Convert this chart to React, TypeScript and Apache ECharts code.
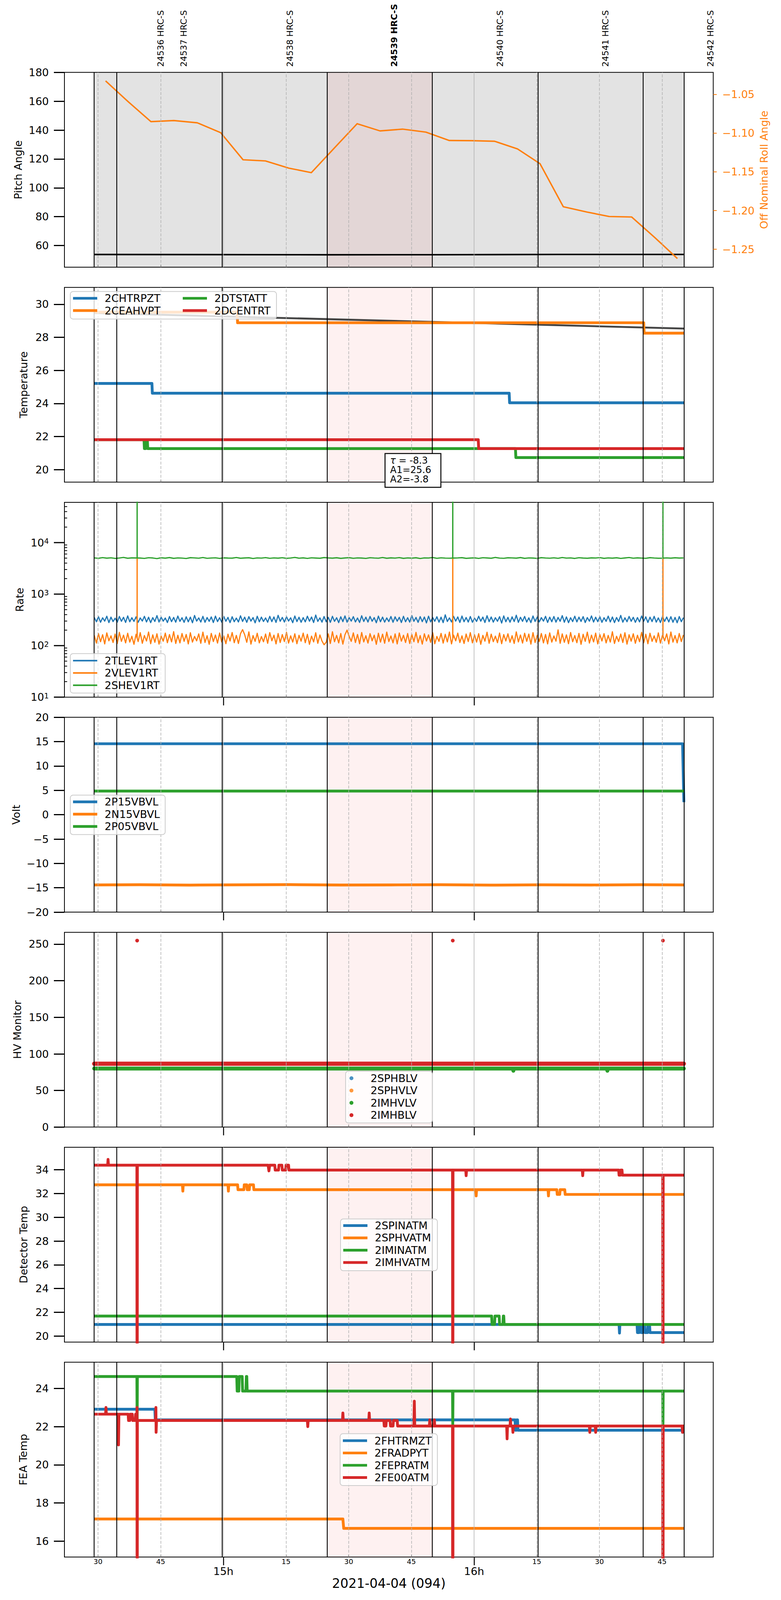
import { useEffect, useRef } from "react";
import * as echarts from "echarts";

const FONT = "DejaVu Sans";
const BLUE = "#1f77b4";
const ORANGE = "#ff7f0e";
const GREEN = "#2ca02c";
const RED = "#d62728";

// time axis: minutes after 14:00 on 2021-04-04
const X_MIN = 21.96;
const X_MAX = 177.24;
const MAJOR_T = [60, 120];
const MINOR_T = [30, 45, 75, 90, 105, 135, 150, 165];
const X_TITLE = "2021-04-04 (094)";

// obsid boundaries and labels
const OBS_BOUNDS = [29.07, 34.49, 59.72, 84.86, 110.0, 135.28, 160.44, 170.21];
const OBS_SHADE = [29.07, 170.21];
const OBS_FOCUS = [84.86, 110.0];
const OBS_NAMES = ["24536 HRC-S", "24537 HRC-S", "24538 HRC-S", "24539 HRC-S", "24540 HRC-S", "24541 HRC-S", "24542 HRC-S"];
const OBS_NAME_T = [45.0, 50.5, 75.9, 100.9, 126.2, 151.4, 176.6];
const OBS_BOLD = "24539 HRC-S";

// y ticks
const PITCH_TICKS = [60, 80, 100, 120, 140, 160, 180];
const ROLL_TICKS = [-1.25, -1.2, -1.15, -1.1, -1.05];
const TEMP_TICKS = [20, 22, 24, 26, 28, 30];
const VOLT_TICKS = [-20, -15, -10, -5, 0, 5, 10, 15, 20];
const HV_TICKS = [0, 50, 100, 150, 200, 250];
const DET_TICKS = [20, 22, 24, 26, 28, 30, 32, 34];
const FEA_TICKS = [16, 18, 20, 22, 24];
const LOG_MAJOR = [10, 100, 1000, 10000];
const LOG_MINOR = [20, 30, 40, 50, 60, 70, 80, 90, 200, 300, 400, 500, 600, 700, 800, 900,
  2000, 3000, 4000, 5000, 6000, 7000, 8000, 9000, 20000, 30000, 40000, 50000];

// panel 1: pitch / roll
const PITCH_T = [29.07, 55.0, 85.0, 110.0, 140.0, 170.21];
const PITCH = [53.75, 53.7, 53.55, 53.6, 53.8, 53.8];
const ROLL_T = [31.81, 37.3, 42.66, 48.15, 53.75, 59.35, 64.71, 70.07, 75.68, 81.05, 86.53, 92.01, 97.49,
  102.86, 108.47, 114.07, 119.43, 124.92, 130.4, 135.77, 141.36, 146.97, 152.34, 157.7, 163.3, 168.66];
const ROLL = [-1.0325, -1.0598, -1.0851, -1.0837, -1.0866, -1.0994, -1.1344, -1.1359, -1.1452, -1.151,
  -1.1194, -1.0878, -1.0971, -1.0948, -1.0987, -1.1095, -1.1097, -1.1105, -1.1204, -1.1394, -1.1951,
  -1.2019, -1.2077, -1.2083, -1.2351, -1.262];

// panel 2: temperatures
const MODEL_T = [29.07, 170.21];
const MODEL = [29.47, 28.53];
const CHTRPZT_T = [29.07, 42.9, 43.0, 128.4, 128.5, 170.21];
const CHTRPZT = [25.21, 25.21, 24.62, 24.62, 24.04, 24.04];
const CEAHVPT_T = [29.07, 63.3, 63.4, 160.6, 160.7, 170.21];
const CEAHVPT = [29.52, 29.52, 28.88, 28.88, 28.25, 28.25];
const DTSTATT_T = [29.07, 41.0, 41.1, 41.4, 41.5, 41.8, 41.9, 129.9, 130.0, 170.21];
const DTSTATT = [21.81, 21.81, 21.27, 21.27, 21.81, 21.81, 21.27, 21.27, 20.73, 20.73];
const DCENTRT_T = [29.07, 121.0, 121.1, 170.21];
const DCENTRT = [21.81, 21.81, 21.27, 21.27];
const FIT_TEXT = ["τ = -8.3", "A1=25.6", "A2=-3.8"];

// panel 3: rates; 2TLEV1RT and 2VLEV1RT every 0.5 min, 2SHEV1RT every 1 min, from 14:29.1
const RATE_T0 = 29.1;
const FAST_DT = 0.5;
const SLOW_DT = 1.0;
const TLEV1RT = [
  352, 291, 366, 284, 347, 299, 372, 280, 358, 293, 341, 286, 369, 297, 355, 282, 378, 290, 349, 295,
  362, 283, 345, 300, 371, 288, 356, 279, 350, 294, 383, 287, 359, 298, 344, 281, 367, 292, 353, 285,
  375, 296, 348, 283, 363, 290, 357, 278, 385, 299, 346, 287, 370, 284, 352, 296, 361, 281, 374, 293,
  349, 286, 368, 297, 354, 280, 364, 291, 343, 288, 379, 295, 357, 283, 366, 299, 351, 277, 372, 290,
  358, 294, 345, 285, 370, 292, 360, 282, 388, 297, 353, 287, 365, 300, 347, 279, 376, 293, 356, 284,
  350, 289, 373, 298, 359, 281, 392, 295, 346, 286, 367, 291, 354, 283, 371, 296, 348, 280, 363, 292,
  377, 285, 352, 299, 366, 288, 344, 282, 380, 294, 357, 287, 369, 297, 350, 278, 374, 291, 358, 286,
  345, 293, 368, 284, 362, 298, 355, 281, 371, 290, 348, 286, 384, 296, 353, 283, 366, 292, 359, 276,
  373, 289, 351, 297, 364, 285, 357, 280, 396, 294, 346, 288, 370, 299, 361, 282, 375, 291, 352, 287,
  367, 284, 343, 295, 372, 298, 358, 281, 381, 292, 360, 286, 349, 297, 365, 274, 378, 290, 354, 285,
  362, 293, 389, 283, 355, 296, 369, 287, 347, 280, 376, 294, 363, 288, 350, 299, 371, 282, 357, 291,
  368, 286, 353, 297, 382, 284, 361, 279, 348, 293, 373, 289, 358, 295, 366, 281, 351, 298, 377, 287,
  356, 292, 364, 283, 349, 296, 374, 288, 360, 280, 352, 294, 386, 285, 347, 291, 369, 297, 355, 283,
  351, 289, 376, 298, 362, 282, 357, 293, 370, 286, 346, 281, 372, 295, 359, 288, 365, 284, 353, 278,
  367, 292, 349,
];
const VLEV1RT = [
  158, 112, 171, 119, 163, 108, 177, 124, 155, 115, 168, 110, 181, 121, 160, 113, 174, 117, 152, 106,
  166, 120, 179, 111, 157, 123, 184, 109, 162, 116, 170, 107, 153, 122, 175, 114, 164, 118, 187, 110,
  159, 113, 172, 121, 165, 108, 178, 117, 151, 124, 169, 111, 183, 115, 156, 106, 173, 120, 161, 112,
  176, 118, 154, 109, 167, 123, 180, 114, 158, 110, 171, 205, 163, 116, 185, 107, 157, 121, 174, 113,
  150, 119, 168, 111, 179, 124, 160, 108, 172, 115, 164, 120, 182, 112, 155, 117, 170, 109, 159, 122,
  175, 114, 166, 106, 153, 118, 178, 111, 161, 123, 104, 116, 169, 110, 186, 119, 158, 113, 172, 107,
  163, 200, 152, 121, 177, 115, 165, 109, 180, 118, 156, 112, 171, 124, 160, 106, 174, 117, 167, 111,
  183, 120, 154, 113, 169, 108, 176, 122, 159, 115, 172, 110, 165, 119, 181, 114, 157, 107, 170, 123,
  162, 116, 178, 109, 151, 121, 173, 112, 166, 118, 184, 108, 160, 124, 175, 115, 155, 110, 168, 120,
  179, 113, 163, 117, 171, 106, 158, 122, 182, 111, 167, 119, 153, 114, 176, 109, 164, 123, 170, 116,
  156, 110, 185, 118, 161, 112, 174, 121, 168, 107, 179, 115, 159, 120, 172, 113, 165, 108, 177, 117,
  154, 122, 202, 111, 169, 116, 162, 109, 180, 119, 157, 114, 173, 106, 166, 121, 183, 112, 160, 118,
  175, 108, 164, 123, 171, 113, 158, 117, 186, 110, 152, 120, 168, 115, 178, 107, 163, 122, 170, 111,
  159, 119, 181, 114, 166, 109, 174, 121, 155, 116, 177, 112, 162, 124, 169, 108, 184, 117, 157, 113,
  172, 120, 161,
];
const SHEV1RT = [
  5040, 4960, 5110, 4990, 5070, 4930, 5020, 5150, 4970, 5060,
  5030, 5010, 4940, 5090, 5030, 4900, 5080, 4990, 5120, 4950,
  5050, 5000, 4920, 5100, 5040, 4980, 5130, 4960, 5020, 5070,
  4940, 5060, 5010, 4990, 5140, 4970, 5030, 5080, 4910, 5050,
  5000, 5110, 4960, 5040, 4990, 5090, 4950, 5020, 5160, 4980,
  5060, 4930, 5070, 5010, 4970, 5120, 5040, 4990, 5080, 4950,
  5030, 5100, 4960, 5050, 5010, 4940, 5090, 5020, 4980, 5140,
  4970, 5060, 5000, 5110, 4950, 5040, 4990, 5080, 4920, 5050,
  5020, 5130, 4960, 5070, 5000, 4980, 5010, 5040, 5100, 4950,
  5010, 5060, 4930, 5090, 5030, 4970, 5150, 5000, 4960, 5080,
  5040, 4990, 5120, 4950, 5050, 5010, 4940, 5100, 5020, 4980,
  5070, 4960, 5130, 5000, 5040, 4930, 5090, 5010, 4970, 5060,
  5020, 5110, 4950, 5050, 4990, 5080, 4940, 5030, 5140, 4980,
  5060, 5000, 4960, 5100, 5020, 4970, 4990, 5050, 4990, 5080,
  5010, 5040,
];
// rate spikes: times, and the level each trace jumps from / to
const SPIKE_T = [39.36, 114.9, 165.2];
const VLEV_SPIKE = [140, 5000];
const SHEV_SPIKE = [5000, 200000];

// panel 4: voltages
const P15_T = [29.07, 169.9, 170.21];
const P15 = [14.57, 14.57, 2.58];
const N15_T = [29.07, 40, 52, 64, 76, 88, 100, 112, 124, 136, 148, 160, 170.21];
const N15 = [-14.42, -14.38, -14.45, -14.4, -14.36, -14.44, -14.41, -14.37, -14.46, -14.4, -14.43, -14.38, -14.42];
const P05_T = [29.07, 170.21];
const P05 = [4.86, 4.86];

// panel 5: HV monitor
const IMHV_T = [29.07, 129.3, 129.4, 129.5, 151.8, 151.9, 152.0, 170.21];
const IMHV = [80.0, 80.0, 77.0, 80.0, 80.0, 77.0, 80.0, 80.0];
const IMHB_T = [29.07, 170.21];
const IMHB = [86.6, 86.6];
const IMHB_OUT_T = [39.36, 114.9, 165.2];
const IMHB_OUT = [254.8, 254.8, 254.8];

// panel 6: detector temperatures
const SPINATM_T = [29.07, 154.7, 154.8, 154.9, 159.0, 159.1, 159.5, 159.6, 159.9, 160.0, 160.4, 160.5,
  160.8, 160.9, 161.5, 161.6, 162.0, 162.1, 163.2, 163.3, 170.21];
const SPINATM = [20.98, 20.98, 20.26, 20.98, 20.98, 20.3, 20.3, 20.98, 20.98, 20.3, 20.3, 20.98,
  20.98, 20.3, 20.3, 20.98, 20.98, 20.3, 20.3, 20.3, 20.3];
const SPHVATM_T = [29.07, 50.2, 50.3, 50.4, 61.1, 61.2, 61.3, 63.4, 63.5, 64.9, 65.0, 65.6, 65.7, 66.2,
  66.3, 67.2, 67.3, 120.4, 120.5, 120.6, 137.7, 137.8, 137.9, 139.8, 139.9, 140.5, 140.6, 141.7, 141.8, 170.21];
const SPHVATM = [32.73, 32.73, 32.2, 32.73, 32.73, 32.2, 32.73, 32.73, 32.32, 32.32, 32.73, 32.73, 32.32, 32.32,
  32.73, 32.73, 32.32, 32.32, 31.8, 32.32, 32.32, 31.8, 32.32, 32.32, 31.92, 31.92, 32.32, 32.32, 31.92, 31.92];
const IMINATM_T = [29.07, 124.2, 124.3, 124.9, 125.0, 126.0, 126.1, 126.9, 127.0, 127.1, 127.2, 170.21];
const IMINATM = [21.69, 21.69, 20.98, 20.98, 21.69, 21.69, 20.98, 20.98, 21.69, 21.69, 20.98, 20.98];
const IMHVATM_T = [29.07, 32.3, 32.4, 32.5, 39.3, 39.36, 39.42, 70.7, 70.9, 71.1, 72.3, 72.4, 73.2, 73.3,
  74.0, 74.1, 74.9, 75.0, 75.6, 75.7, 114.84, 114.9, 114.96, 118.0, 118.1, 118.2, 145.9, 146.0, 146.1,
  154.6, 154.7, 155.0, 155.1, 155.4, 155.5, 165.14, 165.2, 165.26, 170.21];
const IMHVATM = [34.38, 34.38, 34.87, 34.38, 34.38, 0, 34.38, 34.38, 33.9, 34.38, 34.38, 33.97, 33.97, 34.38,
  34.38, 33.97, 33.97, 34.38, 34.38, 33.97, 33.97, 0, 33.97, 33.97, 33.5, 33.97, 33.97, 33.5, 33.97,
  33.97, 33.54, 33.54, 33.97, 33.97, 33.54, 33.54, 0, 33.54, 33.54];

// panel 7: FEA temperatures
const FHTRMZT_T = [29.07, 43.6, 43.7, 129.8, 129.9, 130.1, 130.2, 130.4, 130.5, 169.8, 169.9, 170.0, 170.21];
const FHTRMZT = [22.91, 22.91, 22.35, 22.35, 21.81, 21.81, 22.35, 22.35, 21.81, 21.81, 21.7, 21.81, 21.81];
const FRADPYT_T = [29.07, 88.6, 88.8, 170.21];
const FRADPYT = [17.16, 17.16, 16.67, 16.67];
const FEPRATM_T = [29.07, 39.3, 39.36, 39.42, 63.2, 63.3, 63.7, 63.8, 64.5, 64.6, 65.4, 65.5, 65.6, 65.7,
  114.84, 114.9, 114.96, 165.14, 165.2, 165.26, 170.21];
const FEPRATM = [24.62, 24.62, 22.0, 24.62, 24.62, 23.86, 23.86, 24.62, 24.62, 23.86, 23.86, 24.62, 24.62, 23.86,
  23.86, 22.0, 23.86, 23.86, 22.0, 23.86, 23.86];
const FE00ATM_T = [29.07, 31.8, 31.9, 32.0, 34.8, 34.9, 35.0, 37.2, 37.3, 37.6, 37.7, 38.2, 38.3, 38.9, 39.0,
  39.3, 39.33, 39.36, 39.42, 43.8, 43.85, 43.9, 44.0, 80.1, 80.2, 80.3, 88.5, 88.6, 88.7, 94.8, 94.9, 95.0,
  98.4, 98.5, 98.9, 99.0, 99.9, 100.0, 100.6, 100.7, 101.6, 101.7, 105.6, 105.7, 105.8, 109.3, 109.4, 109.5,
  110.4, 110.5, 110.6, 114.84, 114.9, 114.96, 127.8, 127.9, 128.0, 128.6, 128.7, 128.8, 129.2, 129.3, 129.4,
  147.6, 147.7, 147.8, 149.0, 149.1, 149.2, 165.14, 165.2, 165.26, 169.8, 169.9, 170.0, 170.21];
const FE00ATM = [22.65, 22.65, 23.0, 22.65, 22.65, 21.04, 22.65, 22.65, 22.32, 22.32, 22.65, 22.65, 22.32, 22.32, 22.65,
  22.65, 23.0, 0, 22.32, 22.32, 23.0, 21.7, 22.32, 22.32, 22.0, 22.32, 22.32, 22.71, 22.32, 22.32, 22.71, 22.32,
  22.32, 22.03, 22.03, 22.32, 22.32, 22.03, 22.03, 22.32, 22.32, 22.03, 22.03, 23.33, 22.03, 22.03, 22.35, 22.03,
  22.03, 22.35, 22.03, 22.03, 0, 22.03, 22.03, 21.36, 22.03, 22.03, 22.4, 22.03, 22.03, 21.7, 22.03,
  22.03, 21.7, 22.03, 22.03, 21.7, 22.03, 22.03, 0, 22.03, 22.03, 21.7, 22.03, 22.03];

// layout, measured on the 2000x5400 figure. The browser viewport can be shorter than
// that (4096 px here), so the vertical layout is squeezed to keep the whole figure in view.
const VIEW_H = Math.min(5400, window.innerHeight || 5400);
const KY = Math.min(1, (VIEW_H - 110) / 5291);
const LW = Math.sqrt(KY);
const y = (v: number) => v * KY;
const GRID_LEFT = 165;
const GRID_W = 1661.5;
const GRID_TOP = 246;
const GRID_STEP = 730.5;
const GRID_H = 662;
const TOP_FONT = KY < 0.99 ? 22 : 27;
const BOX_FONT = KY < 0.99 ? 24 : 27;

const Y_LEFT = [
  { name: "Pitch Angle", min: 44.95, max: 180, ticks: PITCH_TICKS, gap: 105 },
  { name: "Temperature", min: 19.24, max: 31.02, ticks: TEMP_TICKS, gap: 91 },
  { name: "Rate", min: 10, max: 60500, ticks: null, gap: 101 },
  { name: "Volt", min: -20, max: 20, ticks: VOLT_TICKS, gap: 110 },
  { name: "HV Monitor", min: 0, max: 266.2, ticks: HV_TICKS, gap: 107 },
  { name: "Detector Temp", min: 19.5, max: 35.89, ticks: DET_TICKS, gap: 91 },
  { name: "FEA Temp", min: 15.17, max: 25.37, ticks: FEA_TICKS, gap: 92 },
];

const signed = (v: number, d = 0) => (v < 0 ? "\u2212" : "") + Math.abs(v).toFixed(d);
const zip = (t: number[], v: number[]) => t.map((x, i) => [x, v[i]]);
const sampled = (v: number[], dt: number) => v.map((val, i) => [RATE_T0 + i * dt, val]);
const spikes = (lvl: number[]) => SPIKE_T.flatMap((t) => [[t, lvl[0]], [t, lvl[1]], [t, "-"]]);

function line(name: string, grid: number, data: any[], color: string, width: number, yIdx = grid) {
  return {
    type: "line", name, xAxisIndex: grid, yAxisIndex: yIdx, data, z: 4,
    showSymbol: false, symbol: "none", clip: true, silent: true, connectNulls: false,
    lineStyle: { color, width: width * LW, cap: "butt", join: "round" },
    itemStyle: { color },
  };
}

function buildOption() {
  const grid: any[] = [];
  const xAxis: any[] = [];
  const yAxis: any[] = [];
  const series: any[] = [];
  const text = { fontFamily: FONT, color: "#000" };

  for (let i = 0; i < 7; i++) {
    grid.push({
      left: GRID_LEFT, top: y(GRID_TOP + i * GRID_STEP), width: GRID_W, height: y(GRID_H),
      show: true, borderColor: "#000", borderWidth: 2, backgroundColor: "transparent", z: 3,
      outerBoundsMode: "none",
    });
  }
  // major (hour) axes
  for (let i = 0; i < 7; i++) {
    xAxis.push({
      type: "value", gridIndex: i, min: X_MIN, max: X_MAX, position: "bottom", z: 3,
      axisLine: { show: false, onZero: false }, splitLine: { show: false },
      axisTick: { show: i >= 2, customValues: MAJOR_T, inside: false, length: y(28), lineStyle: { color: "#000", width: 2.5 } },
      axisLabel: { show: i === 6, customValues: MAJOR_T, margin: y(49) - 13.5, fontSize: 27, ...text, formatter: (v: number) => `${Math.round(v / 60) + 14}h` },
      name: i === 6 ? X_TITLE : "", nameLocation: "middle", nameGap: y(87) - 16.5,
      nameTextStyle: { fontSize: 33, ...text },
    });
  }
  // minor (15 min) axes
  for (let i = 0; i < 7; i++) {
    xAxis.push({
      type: "value", gridIndex: i, min: X_MIN, max: X_MAX, position: "bottom", z: 3,
      axisLine: { show: false, onZero: false }, splitLine: { show: false },
      axisTick: { show: true, customValues: MINOR_T, inside: true, length: y(7), lineStyle: { color: "#000", width: 2 } },
      axisLabel: { show: i === 6, customValues: MINOR_T, margin: Math.max(1, y(15) - 9), fontSize: 18, ...text, formatter: (v: number) => String(Math.round(v) % 60) },
    });
  }
  Y_LEFT.forEach((p, i) => {
    const isLog = i === 2;
    yAxis.push({
      type: isLog ? "log" : "value", logBase: 10, gridIndex: i, min: p.min, max: p.max, position: "left", z: 3,
      axisLine: { show: false, onZero: false }, splitLine: { show: false },
      axisTick: { show: !isLog, customValues: p.ticks || undefined, length: 27, lineStyle: { color: "#000", width: 3 } },
      axisLabel: isLog
        ? {
            margin: 40, fontSize: 27, ...text, lineHeight: 27,
            formatter: (v: number) => {
              const e = Math.log10(v);
              if (Math.abs(e - Math.round(e)) > 1e-6) return "";
              return `10{s|${Math.round(e)}}`;
            },
            rich: { s: { fontSize: 19, lineHeight: 19, verticalAlign: "top", fontFamily: FONT, color: "#000" } },
          }
        : { customValues: p.ticks, margin: 40, fontSize: 27, ...text, formatter: (v: number) => signed(v) },
      name: p.name, nameLocation: "middle", nameRotate: 90, nameGap: p.gap,
      nameTextStyle: { fontSize: 27, ...text },
    });
  });
  // roll angle, right side of panel 1
  yAxis.push({
    type: "value", gridIndex: 0, min: -1.2732, max: -1.0215, position: "right", z: 3,
    axisLine: { show: false, onZero: false }, splitLine: { show: false },
    axisTick: { show: true, customValues: ROLL_TICKS, length: 9, lineStyle: { color: ORANGE, width: 2 } },
    axisLabel: { customValues: ROLL_TICKS, margin: 23, fontSize: 27, fontFamily: FONT, color: ORANGE, formatter: (v: number) => signed(v, 2) },
    name: "Off Nominal Roll Angle", nameLocation: "middle", nameRotate: 90, nameGap: 115,
    nameTextStyle: { fontSize: 27, fontFamily: FONT, color: ORANGE },
  });

  // shading, grid lines and obsid boundaries
  for (let i = 0; i < 7; i++) {
    const areas: any[] = [];
    if (i === 0) areas.push([{ xAxis: OBS_SHADE[0], itemStyle: { color: "#e3e3e3" } }, { xAxis: OBS_SHADE[1] }]);
    areas.push([{ xAxis: OBS_FOCUS[0], itemStyle: { color: "rgba(235,0,0,0.055)" } }, { xAxis: OBS_FOCUS[1] }]);
    series.push({
      type: "line", name: `_area${i}`, xAxisIndex: i, yAxisIndex: i, data: [], z: 1, silent: true,
      markArea: { silent: true, data: areas },
    });
    const lines: any[] = [
      ...MINOR_T.map((v) => ({ xAxis: v, lineStyle: { color: "#b0b0b0", width: 1.5, type: [y(10), y(5)] } })),
      ...MAJOR_T.map((v) => ({ xAxis: v, lineStyle: { color: "#b0b0b0", width: 1.5, type: "solid" } })),
      ...OBS_BOUNDS.map((v) => ({ xAxis: v, lineStyle: { color: "#000", width: 2.2, type: "solid" } })),
    ];
    series.push({
      type: "line", name: `_lines${i}`, xAxisIndex: i, yAxisIndex: i, data: [], z: 2, silent: true,
      markLine: { silent: true, symbol: ["none", "none"], label: { show: false }, data: lines },
    });
  }

  const W = 8.3;
  // panel 1
  series.push(line("Pitch", 0, zip(PITCH_T, PITCH), "#000", 4.5));
  series.push(line("Roll", 0, zip(ROLL_T, ROLL), ORANGE, 4.2, 7));
  // panel 2
  series.push(line("_model", 1, zip(MODEL_T, MODEL), "#444444", 5.5));
  series.push(line("2CHTRPZT", 1, zip(CHTRPZT_T, CHTRPZT), BLUE, W));
  series.push(line("2CEAHVPT", 1, zip(CEAHVPT_T, CEAHVPT), ORANGE, W));
  series.push(line("2DTSTATT", 1, zip(DTSTATT_T, DTSTATT), GREEN, W));
  series.push(line("2DCENTRT", 1, zip(DCENTRT_T, DCENTRT), RED, W));
  // panel 3
  series.push(line("2TLEV1RT", 2, sampled(TLEV1RT, FAST_DT), BLUE, 3.4));
  series.push(line("2VLEV1RT", 2, sampled(VLEV1RT, FAST_DT), ORANGE, 3.4));
  series.push(line("2VLEV1RT", 2, spikes(VLEV_SPIKE), ORANGE, 3.8));
  series.push(line("2SHEV1RT", 2, sampled(SHEV1RT, SLOW_DT), GREEN, 3.6));
  series.push(line("2SHEV1RT", 2, spikes(SHEV_SPIKE), GREEN, 3.8));
  // panel 4
  series.push(line("2P15VBVL", 3, zip(P15_T, P15), BLUE, W));
  series.push(line("2N15VBVL", 3, zip(N15_T, N15), ORANGE, W));
  series.push(line("2P05VBVL", 3, zip(P05_T, P05), GREEN, W));
  // panel 5
  series.push({ type: "scatter", name: "2SPHBLV", xAxisIndex: 4, yAxisIndex: 4, data: [], itemStyle: { color: BLUE }, z: 4 });
  series.push({ type: "scatter", name: "2SPHVLV", xAxisIndex: 4, yAxisIndex: 4, data: [], itemStyle: { color: ORANGE }, z: 4 });
  const hv1: any = line("2IMHVLV", 4, zip(IMHV_T, IMHV), GREEN, 11.5);
  hv1.lineStyle.cap = "round";
  series.push(hv1);
  const hv2: any = line("2IMHBLV", 4, zip(IMHB_T, IMHB), RED, 12.5);
  hv2.lineStyle.cap = "round";
  series.push(hv2);
  series.push({
    type: "scatter", name: "2IMHBLV", xAxisIndex: 4, yAxisIndex: 4, data: zip(IMHB_OUT_T, IMHB_OUT),
    symbolSize: 11 * LW, itemStyle: { color: RED, opacity: 1 }, z: 4, silent: true,
  });
  // panel 6
  series.push(line("2SPINATM", 5, zip(SPINATM_T, SPINATM), BLUE, W));
  series.push(line("2SPHVATM", 5, zip(SPHVATM_T, SPHVATM), ORANGE, W));
  series.push(line("2IMINATM", 5, zip(IMINATM_T, IMINATM), GREEN, W));
  series.push(line("2IMHVATM", 5, zip(IMHVATM_T, IMHVATM), RED, W));
  // panel 7
  series.push(line("2FHTRMZT", 6, zip(FHTRMZT_T, FHTRMZT), BLUE, W));
  series.push(line("2FRADPYT", 6, zip(FRADPYT_T, FRADPYT), ORANGE, W));
  series.push(line("2FEPRATM", 6, zip(FEPRATM_T, FEPRATM), GREEN, W));
  series.push(line("2FE00ATM", 6, zip(FE00ATM_T, FE00ATM), RED, W));

  // legends: left edge of the handles and the centre of the first row, in figure pixels
  const lg = (data: any[], left: number, firstRow: number, extra: any = {}) => ({
    data, left, top: y(firstRow) - 13.5, orient: "vertical", padding: 0, selectedMode: false, z: 7,
    icon: "rect", itemWidth: 62, itemHeight: 8 * LW, itemGap: y(41.8) - 27,
    textStyle: { fontSize: 27, fontFamily: FONT, color: "#000", padding: [0, 0, 0, 14] },
    ...extra,
  });
  const dot = (n: string) => ({ name: n, icon: "circle" });
  const legend = [
    lg(["2CHTRPZT", "2CEAHVPT"], 187, 1013.6),
    lg(["2DTSTATT", "2DCENTRT"], 468, 1013.6),
    lg(["2TLEV1RT", "2VLEV1RT", "2SHEV1RT"], 187, 2245, { itemHeight: 4 }),
    lg(["2P15VBVL", "2N15VBVL", "2P05VBVL"], 187, 2724.8),
    lg([dot("2SPHBLV"), dot("2SPHVLV"), dot("2IMHVLV"), dot("2IMHBLV")], 895, 3664,
      { itemWidth: 56, itemHeight: 10, textStyle: { fontSize: 27, fontFamily: FONT, color: "#000", padding: [0, 0, 0, 16] } }),
    lg(["2SPINATM", "2SPHVATM", "2IMINATM", "2IMHVATM"], 879, 4164.7),
    lg(["2FHTRMZT", "2FRADPYT", "2FEPRATM", "2FE00ATM"], 878, 4895.6),
  ];

  return {
    animation: false,
    backgroundColor: "#fff",
    textStyle: { fontFamily: FONT },
    grid, xAxis, yAxis, series, legend,
  };
}

function buildGraphic(chart: any) {
  const g: any[] = [];
  // obsid labels above the first panel
  OBS_NAMES.forEach((name, i) => {
    const x = chart.convertToPixel({ xAxisIndex: 0 }, OBS_NAME_T[i]);
    g.push({
      type: "text", x, y: y(227), rotation: Math.PI / 2, z: 5,
      style: {
        text: name, fontSize: TOP_FONT, fontFamily: FONT, fontWeight: name === OBS_BOLD ? "bold" : "normal",
        fill: "#000", align: "left", verticalAlign: "middle", textAlign: "left", textVerticalAlign: "middle",
      },
    });
  });
  // legend frames
  const frames = [
    [180, 990.7, 528, 93.3], [180, 2221, 243, 134], [180, 2702, 243, 134],
    [885, 3640, 222, 176], [872, 4142, 248, 176], [871, 4872, 249, 176],
  ];
  frames.forEach(([fx, fy, w, h]) => {
    g.push({
      type: "rect", z: 6, shape: { x: fx, y: y(fy), width: w, height: y(h), r: 7 },
      style: { fill: "rgba(255,255,255,0.8)", stroke: "#cccccc", lineWidth: 2 },
    });
  });
  // fit parameter box in the temperature panel
  const lh = y(32);
  g.push({
    type: "rect", z: 8, shape: { x: 986, y: y(1541), width: 143, height: y(115) },
    style: { fill: "#fff", stroke: "#000", lineWidth: 2.5 },
  });
  g.push({
    type: "text", z: 9, x: 999, y: y(1564.8) - lh / 2,
    style: {
      text: `{i|${FIT_TEXT[0].slice(0, 1)}}${FIT_TEXT[0].slice(1)}\n${FIT_TEXT[1]}\n${FIT_TEXT[2]}`,
      fontSize: BOX_FONT, fontFamily: FONT, fill: "#000", lineHeight: lh,
      align: "left", verticalAlign: "top", textAlign: "left", textVerticalAlign: "top",
      rich: { i: { fontStyle: "italic", fontSize: BOX_FONT, fontFamily: FONT, fill: "#000", lineHeight: lh } },
    },
  });
  // log axis ticks of the rate panel
  const x0 = chart.convertToPixel({ xAxisIndex: 2 }, X_MIN);
  LOG_MAJOR.forEach((v) => {
    const py = chart.convertToPixel({ yAxisIndex: 2 }, v);
    g.push({ type: "line", z: 5, shape: { x1: x0 - 27, y1: py, x2: x0, y2: py }, style: { stroke: "#000", lineWidth: 3 } });
  });
  LOG_MINOR.forEach((v) => {
    const py = chart.convertToPixel({ yAxisIndex: 2 }, v);
    g.push({ type: "line", z: 5, shape: { x1: x0, y1: py, x2: x0 + 7, y2: py }, style: { stroke: "#000", lineWidth: 2 } });
  });
  return g;
}

export default function App() {
  const ref = useRef<HTMLDivElement | null>(null);

  useEffect(() => {
    if (!ref.current) return;
    const chart = echarts.init(ref.current, undefined, { renderer: "svg" });
    chart.setOption(buildOption());
    chart.setOption({ graphic: buildGraphic(chart) });
    return () => {
      chart.dispose();
    };
  }, []);

  return <div ref={ref} style={{ position: "absolute", left: 0, top: 0, width: 2000, height: VIEW_H }} />;
}
